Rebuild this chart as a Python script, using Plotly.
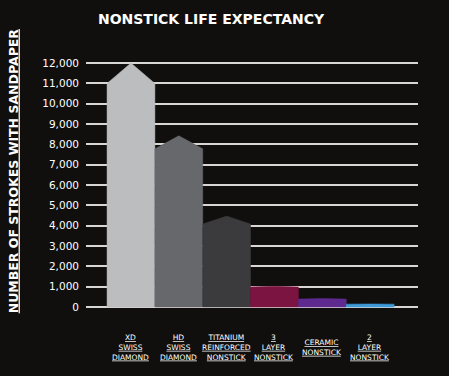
import plotly.graph_objects as go

categories = ["XD<br>SWISS<br>DIAMOND", "HD<br>SWISS<br>DIAMOND", "TITANIUM<br>REINFORCED<br>NONSTICK",
              "3<br>LAYER<br>NONSTICK", "CERAMIC<br>NONSTICK", "2<br>LAYER<br>NONSTICK"]
shoulder_values = [11000, 7780, 4080, 980, 390, 140]
peak_values = [12000, 8420, 4470, 1020, 420, 150]
bar_colors = ["#bcbdbf", "#67686c", "#3b3b3d", "#7c1441", "#5f2a90", "#3f9bd8"]
y_ticks = list(range(0, 12001, 1000))

BG = "#100f0d"
FONT = "DejaVu Sans"

fig = go.Figure()
for i, (s, p, c) in enumerate(zip(shoulder_values, peak_values, bar_colors)):
    xs = [i - 0.5, i - 0.5, i, i + 0.5, i + 0.5, i - 0.5]
    ys = [0, s, p, s, 0, 0]
    fig.add_trace(go.Scatter(x=xs, y=ys, mode="lines", fill="toself", fillcolor=c,
                             line=dict(color=c, width=0.5), hoverinfo="skip", showlegend=False))

for i, lab in enumerate(categories):
    fig.add_annotation(x=i, xref="x", y=-0.16, yref="paper", yanchor="middle", xanchor="center",
                       text="<u>" + lab.replace("<br>", "</u><br><u>") + "</u>", showarrow=False,
                       font=dict(family=FONT, size=7.5, color="#ffffff"), align="center")

fig.add_annotation(x=-0.22, xref="paper", y=0.555, yref="paper", xanchor="center", yanchor="middle",
                   text="<u><b>NUMBER OF STROKES WITH SANDPAPER</b></u>", textangle=-90, showarrow=False,
                   font=dict(family=FONT, size=12.5, color="#ffffff"))

fig.update_layout(
    width=449, height=376,
    paper_bgcolor=BG, plot_bgcolor=BG,
    margin=dict(l=86, r=31, t=60, b=68),
    title=dict(text="<b>NONSTICK LIFE EXPECTANCY</b>", x=0.47, xanchor="center", y=0.95, yanchor="middle",
               font=dict(family=FONT, size=14, color="#ffffff")),
    xaxis=dict(range=[-0.94, 6.0], showgrid=False, zeroline=False, showticklabels=False, fixedrange=True),
    yaxis=dict(range=[-50, 12150], tickvals=y_ticks, tickformat=",", showgrid=True,
               gridcolor="#d9d5d3", gridwidth=2, zeroline=False, ticks="",
               ticklabelstandoff=6, tickfont=dict(family=FONT, size=10.5, color="#ffffff")),
)
fig.write_html("out.html", config={"displayModeBar": False},
               post_script="document.body.style.margin='0';document.body.style.background='#100f0d';")
